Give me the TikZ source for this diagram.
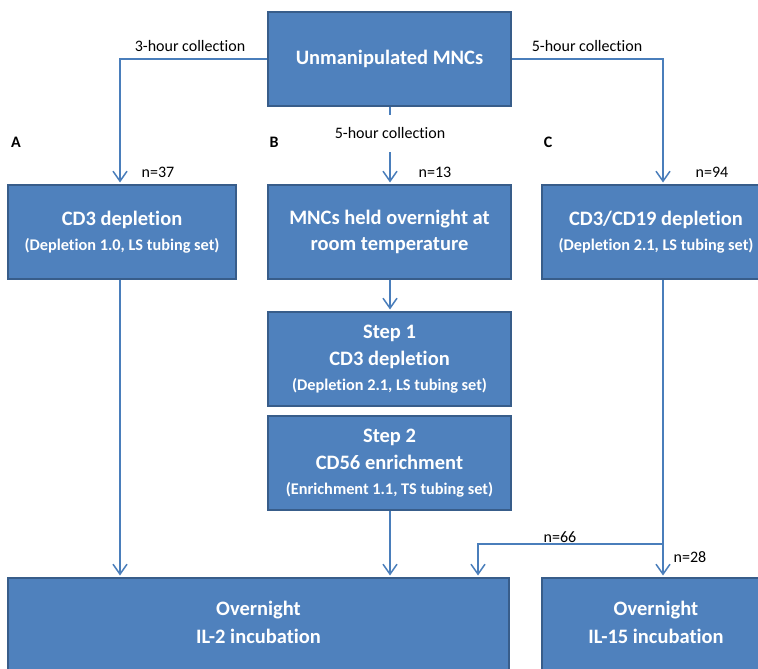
\documentclass[tikz,border=0pt]{standalone}
\usepackage{fontspec}
\setmainfont{Carlito}[RawFeature={-liga}]
\usetikzlibrary{arrows.meta}
\definecolor{boxfill}{HTML}{4F81BD}
\definecolor{boxline}{HTML}{385D8A}
\definecolor{conn}{HTML}{4A7EBB}
\tikzset{
  box/.style={draw=boxline, fill=boxfill, line width=2pt, text=white, align=center,
    inner sep=0pt, font=\bfseries\fontsize{20.5}{26}\selectfont},
  boxtxt/.style={text=white, align=center, inner sep=0pt, font=\bfseries\fontsize{20.5}{26}\selectfont},
  lbl/.style={inner sep=0pt, font=\fontsize{16}{19}\selectfont},
  letter/.style={inner sep=0pt, font=\bfseries\fontsize{16}{19}\selectfont},
  conline/.style={draw=conn, line width=1.6pt},
  arr/.style={conline, -{Straight Barb[length=10pt,width=14pt,line width=1.5pt]}, shorten >=1.5pt},
}
\newcommand{\subt}[1]{{\fontsize{16.3}{19}\selectfont #1}}
\begin{document}
\begin{tikzpicture}[x=1pt,y=-1pt]
\useasboundingbox (0,0) rectangle (758,669);
% boxes
\node[box, minimum width=243pt, minimum height=94pt] (top) at (389.5,59) {Unmanipulated MNCs};
\node[box, minimum width=228pt, minimum height=94pt] (A) at (122,232) {CD3 depletion\\[-1pt]\subt{(Depletion 1.0, LS tubing set)}};
\node[box, minimum width=243pt, minimum height=94pt] (B1) at (389.5,232) {MNCs held overnight at\\room temperature};
\node[box, minimum width=228pt, minimum height=94pt] (C) at (656,232) {CD3/CD19 depletion\\[-1pt]\subt{(Depletion 2.1, LS tubing set)}};
\node[box, minimum width=243pt, minimum height=94pt] (S1) at (389.5,359) {Step 1\\[1pt]CD3 depletion\\[-1pt]\subt{(Depletion 2.1, LS tubing set)}};
\node[box, minimum width=243pt, minimum height=94pt] (S2) at (389.5,463) {Step 2\\[1pt]CD56 enrichment\\[-1pt]\subt{(Enrichment 1.1, TS tubing set)}};
\node[box, minimum width=501pt, minimum height=120pt, anchor=north] (IL2) at (258.5,577) {};
\node[boxtxt] (IL2t) at (258.5,622) {Overnight\\[2pt]IL-2 incubation};
\node[box, minimum width=228pt, minimum height=120pt, anchor=north] (IL15) at (656,577) {};
\node[boxtxt] (IL15t) at (656,622) {Overnight\\[2pt]IL-15 incubation};
% letters
\node[letter] (la) at (16,142) {A};
\node[letter] (lb) at (274,142) {B};
\node[letter] (lc) at (548,142) {C};
% labels
\node[lbl] (l3h) at (190,46) {3-hour collection};
\node[lbl] (l5hr) at (587,46) {5-hour collection};
\node[lbl, minimum height=37pt] (l5hm) at (390,133.5) {5-hour collection};
\node[lbl] (n37) at (158,172) {n=37};
\node[lbl] (n13) at (435,172) {n=13};
\node[lbl] (n94) at (712,172) {n=94};
\node[lbl] (n66) at (560,537) {n=66};
\node[lbl] (n28) at (690,557) {n=28};
% connectors
\coordinate (ax) at (120,0);
\coordinate (mx) at (390,0);
\coordinate (cx) at (663,0);
\coordinate (bx) at (478,0);
\draw[arr] (top.west) -| (ax |- A.north);
\draw[arr] (top.east) -| (cx |- C.north);
\draw[conline] (mx |- top.south) -- (l5hm.north);
\draw[arr] (l5hm.south) -- (mx |- B1.north);
\draw[arr] (mx |- B1.south) -- (mx |- S1.north);
\draw[arr] (ax |- A.south) -- (ax |- IL2.north);
\draw[arr] (mx |- S2.south) -- (mx |- IL2.north);
\coordinate (br) at (663,544);
\draw[arr] (cx |- C.south) -- (cx |- IL15.north);
\draw[arr] (br) -| (bx |- IL2.north);
\end{tikzpicture}
\end{document}
